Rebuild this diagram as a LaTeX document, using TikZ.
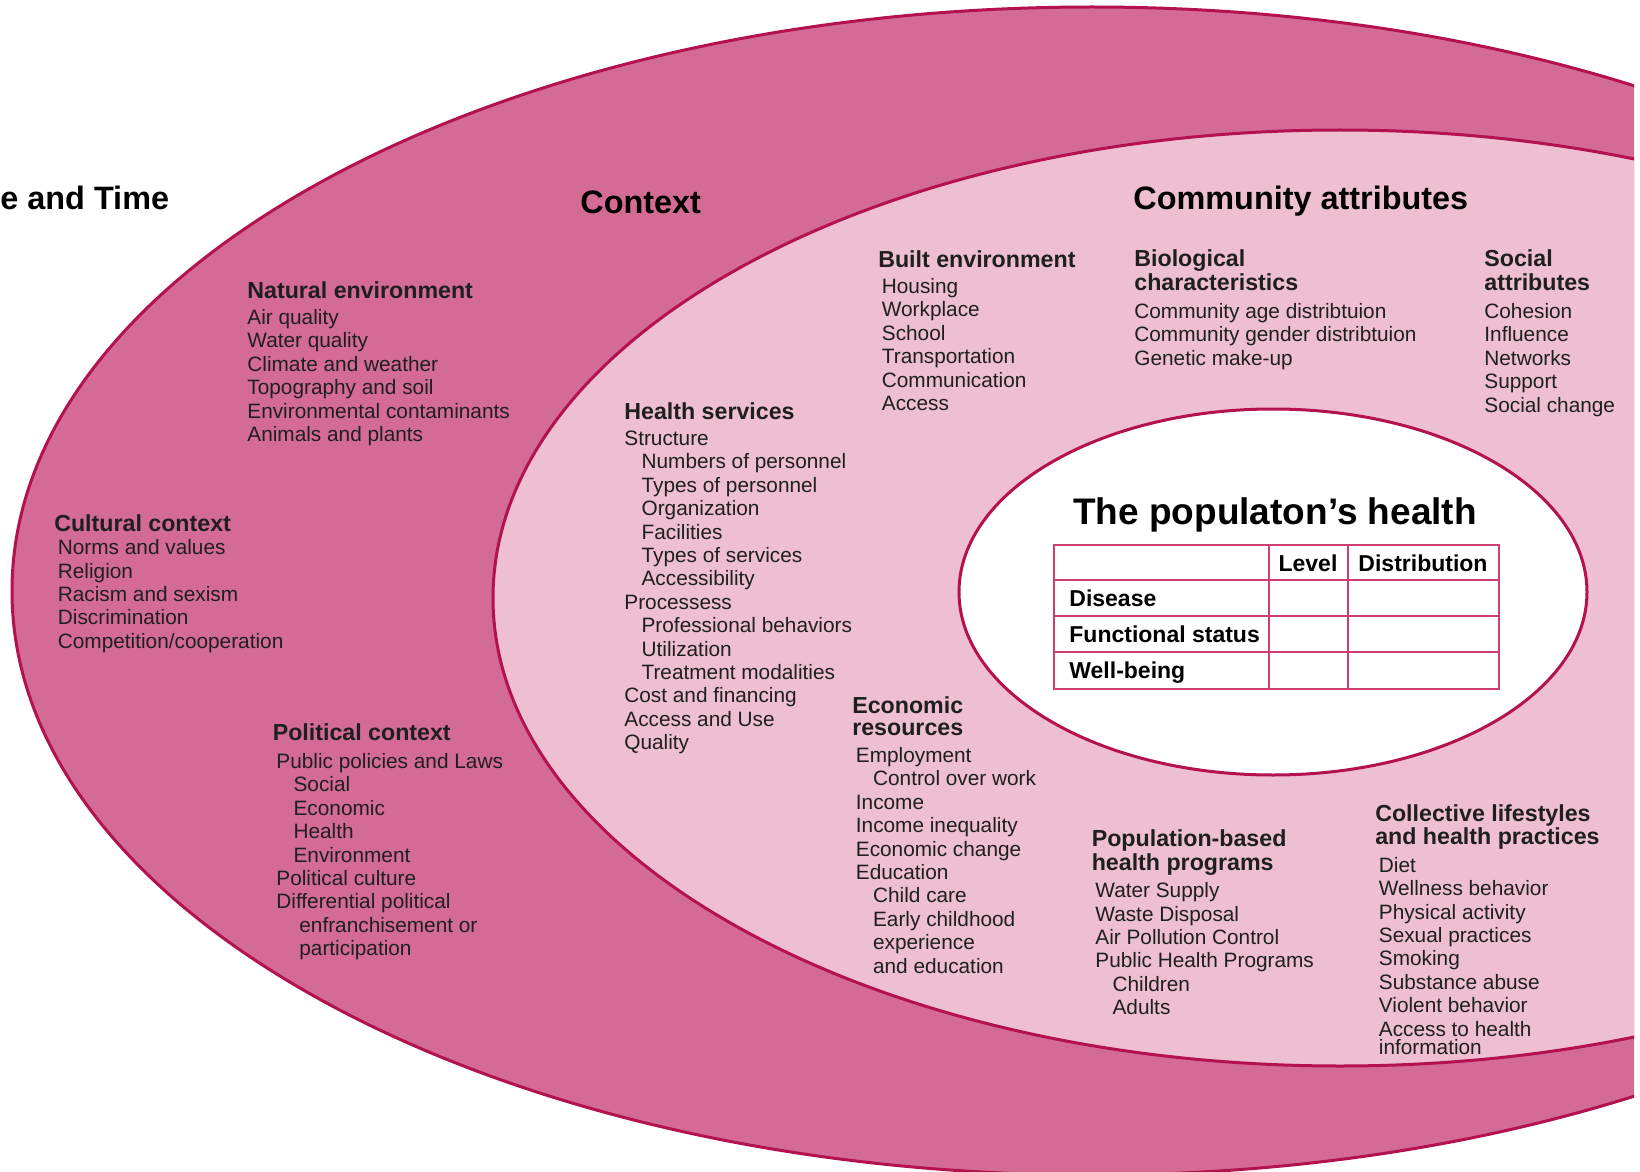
\documentclass[tikz,border=0pt]{standalone}
\usepackage{fontspec}
\setmainfont{Liberation Sans}

\definecolor{contextpink}{RGB}{211,107,148}
\definecolor{communitypink}{RGB}{237,191,208}
\definecolor{rimred}{RGB}{180,18,78}
\definecolor{tablered}{RGB}{205,62,114}

% heading lines and indented items
\newcommand{\hd}[1]{{\fontsize{11.6}{12}\selectfont\bfseries #1}}
\newcommand{\hdo}[1]{\hspace*{-1.8pt}\hd{#1}}
\newcommand{\ind}{\hspace*{8.6pt}}

\tikzset{
  ring/.style={draw=rimred, line width=1.5pt},
  block/.style={anchor=north west, inner sep=0pt, align=left,
    font=\fontsize{10.4}{11.7}\selectfont, text=black!88},
  title/.style={anchor=west, inner sep=0pt, font=\fontsize{16.2}{19}\selectfont\bfseries},
  cell/.style={inner sep=0pt, anchor=base, font=\fontsize{11.5}{13}\selectfont\bfseries},
  grid line/.style={draw=tablered, line width=1.3pt},
}

\begin{document}
\begin{tikzpicture}[x=0.5pt,y=-0.5pt]
  \useasboundingbox (0,0) rectangle (1640,1172);

  \begin{scope}
    \clip (0,0) rectangle (1634,1172);
    % Context band
    \fill[contextpink] (1092,591) ellipse [x radius=1080, y radius=584];
    \draw[ring] (1092,591) ellipse [x radius=1080, y radius=584];
    % Community attributes band
    \fill[communitypink] (1340,598) ellipse [x radius=847, y radius=468];
    \draw[ring] (1340,598) ellipse [x radius=847, y radius=468];
    % The population's health
    \fill[white] (1273,592) ellipse [x radius=314, y radius=183];
    \draw[ring] (1273,592) ellipse [x radius=314, y radius=183];
  \end{scope}

  % Titles
  \node[title] (placetime) at (0,198) {e and Time};
  \node[title] (context) at (580,202) {Context};
  \node[title] (community) at (1133,201) {Community attributes};
  \node[inner sep=0pt, font=\fontsize{18.5}{22}\selectfont\bfseries] (health) at (1275,515) {The populaton’s health};

  % Context blocks
  \node[block] (natural) at (247,281) {\hd{Natural environment}\\[1.4pt]
    Air quality\\ Water quality\\ Climate and weather\\ Topography and soil\\
    Environmental contaminants\\ Animals and plants};

  \node[block] (cultural) at (57.5,514) {\hdo{Cultural context}\\
    Norms and values\\ Religion\\ Racism and sexism\\ Discrimination\\
    Competition/cooperation};

  \node[block] (political) at (276,723) {\hdo{Political context}\\[2.4pt]
    Public policies and Laws\\ \ind Social\\ \ind Economic\\ \ind Health\\
    \ind Environment\\ Political culture\\ Differential political\\
    \hspace*{11.5pt}enfranchisement or\\ \hspace*{11.5pt}participation};

  % Community attribute blocks
  \node[block] (services) at (624,402) {\hd{Health services}\\[1.4pt]
    Structure\\ \ind Numbers of personnel\\ \ind Types of personnel\\
    \ind Organization\\ \ind Facilities\\ \ind Types of services\\
    \ind Accessibility\\ Processess\\ \ind Professional behaviors\\
    \ind Utilization\\ \ind Treatment modalities\\ Cost and financing\\
    Access and Use\\ Quality};

  \node[block] (built) at (881.5,250) {\hdo{Built environment}\\[1.4pt]
    Housing\\ Workplace\\ School\\ Transportation\\ Communication\\ Access};

  \node[block] (biological) at (1134,249) {\hd{Biological}\\[0.3pt] \hd{characteristics}\\[2.4pt]
    Community age distribtuion\\ Community gender distribtuion\\ Genetic make-up};

  \node[block] (social) at (1484,249) {\hd{Social}\\[0.3pt] \hd{attributes}\\[2.4pt]
    Cohesion\\ Influence\\ Networks\\ Support\\ Social change};

  \node[block] (economic) at (855.5,696) {\hdo{Economic}\\[-0.8pt] \hdo{resources}\\[2pt]
    Employment\\ \ind Control over work\\ Income\\ Income inequality\\
    Economic change\\ Education\\ \ind Child care\\ \ind Early childhood\\
    \ind experience\\ \ind and education};

  \node[block] (programs) at (1095,829) {\hdo{Population-based}\\[0.3pt] \hdo{health programs}\\[2pt]
    Water Supply\\ Waste Disposal\\ Air Pollution Control\\
    Public Health Programs\\ \ind Children\\ \ind Adults};

  \node[block] (lifestyles) at (1378.5,804) {\hdo{Collective lifestyles}\\[-0.3pt] \hdo{and health practices}\\[2.4pt]
    Diet\\ Wellness behavior\\ Physical activity\\ Sexual practices\\
    Smoking\\ Substance abuse\\ Violent behavior\\ Access to health\\[-2.7pt]
    information};

  % Health table
  \draw[grid line] (1054,545) rectangle (1499,689);
  \draw[grid line] (1054,580) -- (1499,580);
  \draw[grid line] (1054,616) -- (1499,616);
  \draw[grid line] (1054,652) -- (1499,652);
  \draw[grid line] (1269,545) -- (1269,689);
  \draw[grid line] (1348,545) -- (1348,689);

  \node[cell] (level) at (1308,571) {Level};
  \node[cell] (distribution) at (1423,571) {Distribution};
  \node[cell, anchor=base west] (disease) at (1069,606) {Disease};
  \node[cell, anchor=base west] (functional) at (1069,642) {Functional status};
  \node[cell, anchor=base west] (wellbeing) at (1069,678) {Well-being};
\end{tikzpicture}
\end{document}
